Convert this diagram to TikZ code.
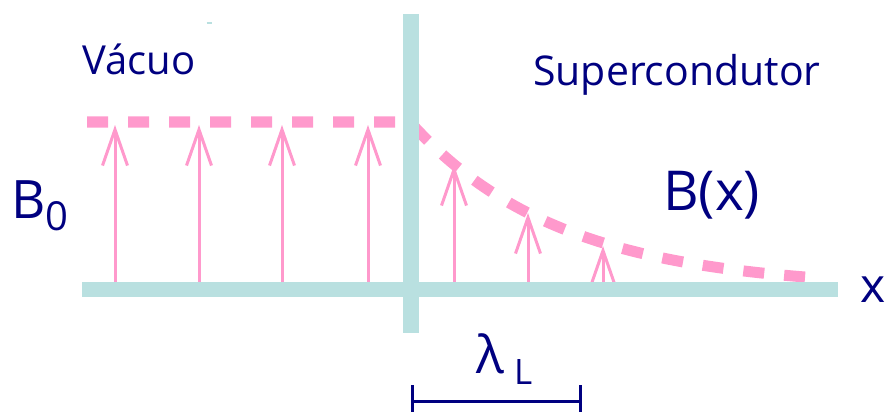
\documentclass[tikz,border=0pt]{standalone}
\usepackage{fontspec}
\setmainfont{Open Sans}
\usetikzlibrary{arrows.meta}
\definecolor{barcyan}{RGB}{185,224,224}
\definecolor{fieldpink}{RGB}{255,153,204}
\definecolor{labelnavy}{RGB}{0,0,128}
\begin{document}
\begin{tikzpicture}[x=1pt,y=-1pt,
  bar/.style={barcyan, line width=16pt},
  axisbar/.style={barcyan, line width=15pt},
  fieldline/.style={fieldpink, line width=11pt, dash pattern=on 21pt off 20pt},
  fieldarrow/.style={fieldpink, line width=3pt, -{Straight Barb[length=36pt,width=25pt]}},
  lbl/.style={labelnavy, inner sep=0pt, anchor=base west},
  ruler/.style={labelnavy, line width=3pt}]
\useasboundingbox (0,0) rectangle (887,412);
% coordinates
\coordinate (dashstart) at (87,122);
\coordinate (surface) at (410,122);
\coordinate (bartop) at (410.5,14);
\coordinate (barbot) at (410.5,333);
\coordinate (axisL) at (82,289.5);
\coordinate (axisR) at (838,289.5);
% field line (dashed)
\draw[fieldline] (dashstart) -- (surface)
  -- plot[domain=410:818,samples=60,smooth] (\x,{289-167*exp(-(\x-410)/150)});
% field arrows in vacuum
\foreach \i/\px in {1/115,2/199,3/282,4/368}{
  \coordinate (vb\i) at (\px,289);
  \coordinate (vt\i) at (\px,125);
  \draw[fieldarrow] (vb\i) -- (vt\i);
}
% field arrows in superconductor
\foreach \i/\px/\py in {1/454/165,2/528/213,3/603/246}{
  \coordinate (sb\i) at (\px,289);
  \coordinate (st\i) at (\px,\py);
  \draw[fieldarrow] (sb\i) -- (st\i);
}
% bars
\draw[bar] (bartop) -- (barbot);
\draw[axisbar] (axisL) -- (axisR);
\coordinate (speckL) at (206.5,23);
\coordinate (speckR) at (211.5,23);
\draw[barcyan, line width=2pt] (speckL) -- (speckR);
% labels
\node[lbl, font=\fontsize{40}{46}\selectfont] (vacuo) at (82,75) {Vácuo};
\node[lbl, font=\fontsize{41}{48}\selectfont] (super) at (533,86) {Supercondutor};
\node[lbl, font=\fontsize{55}{62}\selectfont] (bx) at (663,210) {B(x)};
\node[lbl, font=\fontsize{53}{60}\selectfont] (b0) at (11,218) {B};
\node[lbl, font=\fontsize{40}{46}\selectfont] (b0sub) at (b0.base east) [yshift=-12pt] {0};
\node[lbl, font=\fontsize{48}{56}\selectfont] (xlab) at (860,302) {x};
\node[lbl, font=\fontsize{52}{60}\selectfont] (lam) at (476,373) {λ};
\node[lbl, font=\fontsize{35}{42}\selectfont] (lamsub) at (514,384) {L};
% ruler
\coordinate (rl) at (412,401);
\coordinate (rr) at (580,401);
\coordinate (rlt) at (412,385);
\coordinate (rlb) at (412,414);
\coordinate (rrt) at (580,385);
\coordinate (rrb) at (580,414);
\draw[ruler] (rl) -- (rr);
\draw[ruler] (rlt) -- (rlb);
\draw[ruler] (rrt) -- (rrb);
\end{tikzpicture}
\end{document}
